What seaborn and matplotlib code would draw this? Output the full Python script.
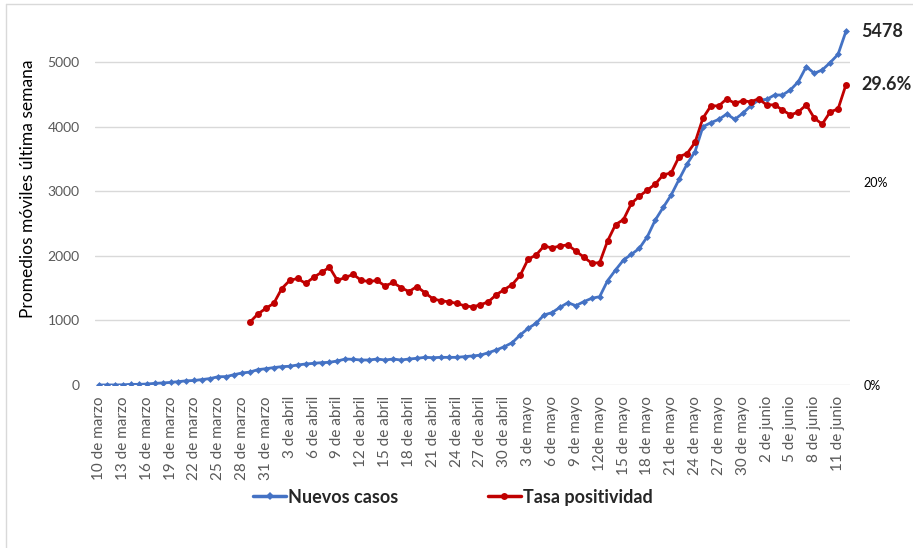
import numpy as np
import pandas as pd
import matplotlib
matplotlib.use("Agg")
import matplotlib.pyplot as plt
import seaborn as sns
from matplotlib.lines import Line2D

# daily moving averages, 10 de marzo -> 12 de junio
fechas = pd.date_range("2020-03-10", "2020-06-12", freq="D")

nuevos_casos = [
    0, 1, 1, 3, 10, 10, 15, 25, 32, 40,
    52, 65, 70, 85, 100, 128, 130, 160, 186, 200,
    238, 252, 270, 284, 290, 310, 325, 335, 346, 351,
    372, 402, 397, 387, 387, 402, 387, 402, 387, 402,
    413, 428, 423, 428, 428, 428, 439, 450, 462, 500,
    542, 593, 655, 774, 877, 955, 1084, 1120, 1202, 1274,
    1228, 1290, 1342, 1367, 1615, 1780, 1935, 2023, 2116, 2296,
    2554, 2750, 2941, 3184, 3421, 3612, 3999, 4061, 4112, 4195,
    4112, 4205, 4319, 4412, 4420, 4489, 4489, 4567, 4695, 4928,
    4825, 4876, 4990, 5119, 5478,
]

# positivity rate (%), starts 29 de marzo
tasa_positividad = [np.nan] * 19 + [
    6.2,
    7.0, 7.55, 8.05, 9.5, 10.3, 10.5, 10.0, 10.6, 11.1, 11.6,
    10.3, 10.6, 10.9, 10.3, 10.2, 10.3, 9.75, 10.1, 9.6, 9.2,
    9.7, 9.1, 8.5, 8.3, 8.2, 8.05, 7.8, 7.7, 7.9, 8.2,
    8.9, 9.4, 9.9, 10.8, 12.4, 12.8, 13.7, 13.5, 13.7, 13.8,
    13.2, 12.6, 12.0, 12.05, 14.2, 15.8, 16.3, 17.9, 18.6, 19.2,
    19.8, 20.7, 20.9, 22.5, 22.8, 23.9, 26.3, 27.5, 27.5, 28.2,
    27.75, 28.0, 27.9, 28.2, 27.6, 27.6, 27.1, 26.6, 26.9, 27.6,
    26.3, 25.7, 26.9, 27.2, 29.6,
]

etiquetas_x = [
    "10 de marzo", "13 de marzo", "16 de marzo", "19 de marzo", "22 de marzo",
    "25 de marzo", "28 de marzo", "31 de marzo",
    "3 de abril", "6 de abril", "9 de abril", "12 de abril", "15 de abril",
    "18 de abril", "21 de abril", "24 de abril", "27 de abril", "30 de abril",
    "3 de mayo", "6 de mayo", "9 de mayo", "12de mayo", "15 de mayo",
    "18 de mayo", "21 de mayo", "24 de mayo", "27 de mayo", "30 de mayo",
    "2 de junio", "5 de junio", "8 de junio", "11 de junio",
]

df = pd.DataFrame({
    "dia": np.arange(len(fechas)),
    "Nuevos casos": nuevos_casos,
    "Tasa positividad": tasa_positividad,
})

azul = "#4472C4"
rojo = "#C00000"
gris = "#595959"

sns.set_style("white")
plt.rcParams["font.family"] = ["Lato", "DejaVu Sans"]

fig = plt.figure(figsize=(9.13, 5.48), dpi=100)
ax = fig.add_axes([95 / 913, 1 - 385 / 548, 755 / 913, 365 / 548])

sns.lineplot(data=df, x="dia", y="Nuevos casos", ax=ax, color=azul,
             marker="D", markersize=3.5, markeredgewidth=0, linewidth=2)
ax.set_xlim(-0.5, len(fechas) - 0.5)
ax.set_ylim(0, 5650)
ax.set_yticks(range(0, 6000, 1000))
ax.yaxis.grid(True, color="#d9d9d9", linewidth=1)
ax.set_axisbelow(True)
ax.set_xticks(df["dia"][::3])
ax.set_xticklabels(etiquetas_x, rotation=90, fontsize=11, color=gris)
ax.tick_params(axis="x", length=0, pad=8)
ax.tick_params(axis="y", length=0, pad=11, labelsize=10, labelcolor=gris)
ax.set_xlabel("")
ax.set_ylabel("Promedios móviles última semana", fontsize=12.5, color="black")
ax.yaxis.set_label_coords(-0.078, 0.537)
for s in ax.spines.values():
    s.set_visible(False)

ax2 = ax.twinx()
sns.lineplot(data=df, x="dia", y="Tasa positividad", ax=ax2, color=rojo,
             marker="o", markersize=5, markeredgewidth=0, linewidth=2)
ax2.set_ylim(0, 35.96)
ax2.set_yticks([0, 20])
ax2.set_yticklabels(["0%", "20%"])
ax2.tick_params(axis="y", length=0, pad=10, labelsize=9, labelcolor="black")
ax2.set_ylabel("")
ax2.grid(False)
for s in ax2.spines.values():
    s.set_visible(False)

ax.annotate(f"{nuevos_casos[-1]}", xy=(df["dia"].iloc[-1], nuevos_casos[-1]),
            xytext=(15, 0), textcoords="offset pixels", va="center",
            fontsize=13, fontweight="bold")
ax2.annotate(f"{tasa_positividad[-1]}%", xy=(df["dia"].iloc[-1], tasa_positividad[-1]),
             xytext=(15, 0), textcoords="offset pixels", va="center",
             fontsize=13, fontweight="bold")

handles = [
    Line2D([], [], color=azul, marker="D", markersize=4, markeredgewidth=0, linewidth=2.5),
    Line2D([], [], color=rojo, marker="o", markersize=5, markeredgewidth=0, linewidth=2.5),
]
fig.legend(handles, ["Nuevos casos", "Tasa positividad"], loc="center",
           bbox_to_anchor=(0.496, 0.093), ncol=2, frameon=False,
           prop={"weight": "bold", "size": 13}, handlelength=1.8,
           handletextpad=0.1, columnspacing=5)

# light chart border (top and left edges visible)
fig.add_artist(Line2D([6 / 913, 1], [1 - 4 / 548, 1 - 4 / 548], color="#d9d9d9", lw=1))
fig.add_artist(Line2D([6 / 913, 6 / 913], [0, 1 - 4 / 548], color="#d9d9d9", lw=1))

fig.savefig("out.png", dpi=100)
